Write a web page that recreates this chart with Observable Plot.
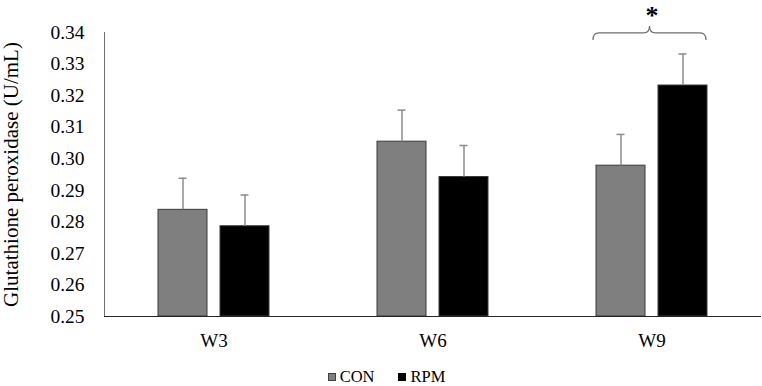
<!DOCTYPE html>
<html>
<head>
<meta charset="utf-8">
<script src="https://cdn.jsdelivr.net/npm/d3@7"></script>
<script src="https://cdn.jsdelivr.net/npm/@observablehq/plot@0.6"></script>
<style>
  body { margin: 0; background: #fff; font-family: "Liberation Serif", "Times New Roman", serif; }
  #chart svg { display: block; }
  #legend { height: 34px; box-sizing: border-box; padding-top: 16px; padding-left: 11px;
            display: flex; justify-content: center; align-items: center; font-size: 16.5px; color: #000;
            font-family: "Liberation Serif", "Times New Roman", serif; }
  .item { display: flex; align-items: center; height: 18px; margin: 0 12px; }
  .sw { width: 6px; height: 6px; margin-right: 4px; border: 1px solid #404040; }
</style>
</head>
<body>
<div id="chart"></div>
<div id="legend"></div>
<script>
// ---- data ----
const weeks = ["W3", "W6", "W9"];
const groups = ["CON", "RPM"];
const conMeans = [0.2838, 0.3054, 0.2978];
const rpmMeans = [0.2786, 0.2942, 0.3232];
const conErrors = [0.0100, 0.0100, 0.0099];
const rpmErrors = [0.0099, 0.0100, 0.0100];
const yDomain = [0.25, 0.34];
const yTicks = [0.25, 0.26, 0.27, 0.28, 0.29, 0.30, 0.31, 0.32, 0.33, 0.34];
const yLabel = "Glutathione peroxidase (U/mL)";
const significance = [{week: "W9", y: 0.3397, label: "*"}];
const groupColors = ["#7f7f7f", "#000000"];

const table = weeks.flatMap((w, i) => [
  {week: w, group: "CON", mean: conMeans[i], err: conErrors[i]},
  {week: w, group: "RPM", mean: rpmMeans[i], err: rpmErrors[i]}
]);

function braceRender(index, scales, values) {
  if (!index || index.length === 0) return null;
  const sx = scales.x;
  const bw = sx.bandwidth ? sx.bandwidth() : 49;
  const g = d3.create("svg:g");
  for (const i of index) {
    const x1 = sx(groups[0]) - 3;
    const x2 = sx(groups[1]) + bw - 1;
    const xm = (x1 + x2) / 2;
    const yb = values.y[i];
    const r = 6, h = 7;
    const p = `M${x1},${yb + h} Q${x1},${yb} ${x1 + r},${yb} L${xm - r},${yb} Q${xm},${yb} ${xm},${yb - h} ` +
              `Q${xm},${yb} ${xm + r},${yb} L${x2 - r},${yb} Q${x2},${yb} ${x2},${yb + h}`;
    g.append("path").attr("d", p).attr("fill", "none").attr("stroke", "#6e6e6e").attr("stroke-width", 1.2);
  }
  return g.node();
}

const serif = "'Liberation Serif', 'Times New Roman', serif";

const chart = Plot.plot({
  width: 762,
  height: 352,
  marginLeft: 104,
  marginRight: 1,
  marginTop: 32,
  marginBottom: 36,
  style: {fontFamily: serif, color: "#000", background: "#fff"},
  fx: {domain: weeks, padding: 0},
  x: {domain: groups, paddingInner: 0.212, paddingOuter: 0.852, axis: null},
  y: {domain: yDomain},
  color: {domain: groups, range: groupColors},
  marks: [
    Plot.axisY({ticks: yTicks, tickFormat: d3.format(".2f"), tickSize: 0, tickPadding: 20, fontSize: 19.5, fontFamily: serif, label: null}),
    Plot.axisY({ticks: [], tickSize: 0, fontSize: 21, fontFamily: serif, label: yLabel, labelArrow: "none", labelAnchor: "center", labelOffset: 101, dy: -5}),
    Plot.axisFx({anchor: "bottom", tickSize: 0, tickPadding: 17, fontSize: 19, fontFamily: serif, label: null}),
    Plot.frame({anchor: "left", facetAnchor: "left", stroke: "#6e6e6e"}),
    Plot.barY(table, {fx: "week", x: "group", y1: () => yDomain[0], y2: "mean", fill: "group", stroke: "#3a3a3a", strokeWidth: 1}),
    Plot.ruleX(table, {fx: "week", x: "group", y1: "mean", y2: d => d.mean + d.err, stroke: "#8c8c8c", strokeWidth: 1.5}),
    Plot.tickY(table, {fx: "week", x: "group", y: d => d.mean + d.err, stroke: "#8c8c8c", strokeWidth: 1.5, insetLeft: 20.5, insetRight: 20.5}),
    Plot.ruleY([yDomain[0]], {stroke: "#262626", strokeWidth: 1.2}),
    Plot.dot(significance, {fx: "week", y: "y", r: 0, render: braceRender}),
    Plot.text(significance, {fx: "week", y: "y", text: "label", dy: -18, fontSize: 26, fontWeight: "bold", fontFamily: serif, fill: "#000"})
  ]
});
document.getElementById("chart").appendChild(chart);

// legend
const legend = document.getElementById("legend");
groups.forEach((gname, i) => {
  const item = document.createElement("div");
  item.className = "item";
  const sw = document.createElement("span");
  sw.className = "sw";
  sw.style.background = groupColors[i];
  sw.style.borderColor = i === 0 ? "#404040" : "#000";
  const t = document.createElement("span");
  t.textContent = gname;
  item.appendChild(sw);
  item.appendChild(t);
  legend.appendChild(item);
});
</script>
</body>
</html>
